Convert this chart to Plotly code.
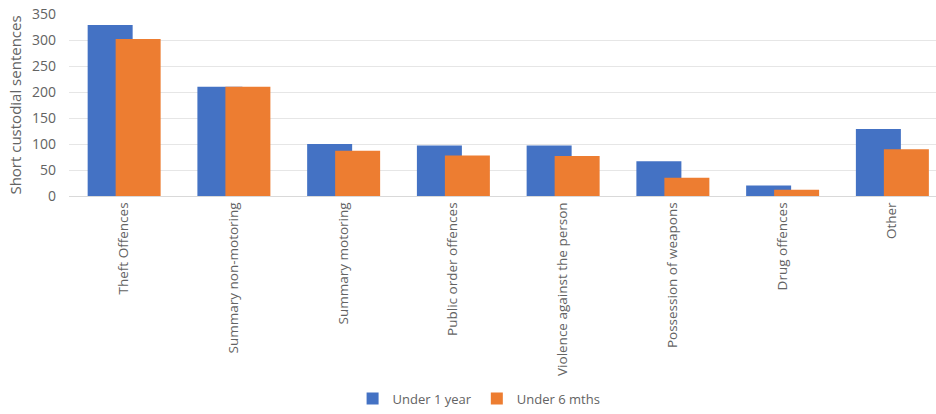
import plotly.graph_objects as go

categories = [
    "Theft Offences",
    "Summary non-motoring",
    "Summary motoring",
    "Public order offences",
    "Violence against the person",
    "Possession of weapons",
    "Drug offences",
    "Other",
]
under_1_year = [329, 210, 100, 97, 97, 67, 20, 129]
under_6_mths = [302, 210, 87, 78, 77, 35, 12, 90]
y_ticks = [0, 50, 100, 150, 200, 250, 300, 350]

BLUE = "#4472C4"
ORANGE = "#ED7D31"
TEXT = "#636363"
FONT = "'Open Sans', sans-serif"

fig = go.Figure()
fig.add_trace(go.Bar(
    name="Under 1 year", x=categories, y=under_1_year,
    marker=dict(color=BLUE, line=dict(width=0)),
    width=0.41, offset=-0.33,
))
fig.add_trace(go.Bar(
    name="Under 6 mths", x=categories, y=under_6_mths,
    marker=dict(color=ORANGE, line=dict(width=0)),
    width=0.41, offset=-0.075,
))

fig.update_layout(
    width=936, height=414,
    margin=dict(l=69, r=0, t=14, b=218),
    barmode="overlay",
    plot_bgcolor="white", paper_bgcolor="white",
    font=dict(family=FONT, size=13, color=TEXT),
    showlegend=True,
    legend=dict(
        orientation="h", x=0.473, xanchor="center", y=-1.195, yanchor="bottom",
        font=dict(size=13, color=TEXT), itemwidth=30, traceorder="normal",
    ),
)
fig.update_xaxes(
    type="category", range=[-0.5, 7.4], tickangle=-90,
    showgrid=False, showline=True, linecolor="#D9D9D9", linewidth=1,
    tickfont=dict(size=13.5, color=TEXT), ticks="", automargin=False,
)
fig.update_yaxes(
    range=[0, 350], tickvals=y_ticks, showgrid=True, gridcolor="#E6E6E6",
    zeroline=False, showline=False, ticks="", ticklabelstandoff=12,
    tickfont=dict(size=14, color=TEXT), automargin=False,
    title=dict(text="Short custodial sentences", font=dict(size=15, color=TEXT), standoff=6),
)

fig.write_html("out.html")
